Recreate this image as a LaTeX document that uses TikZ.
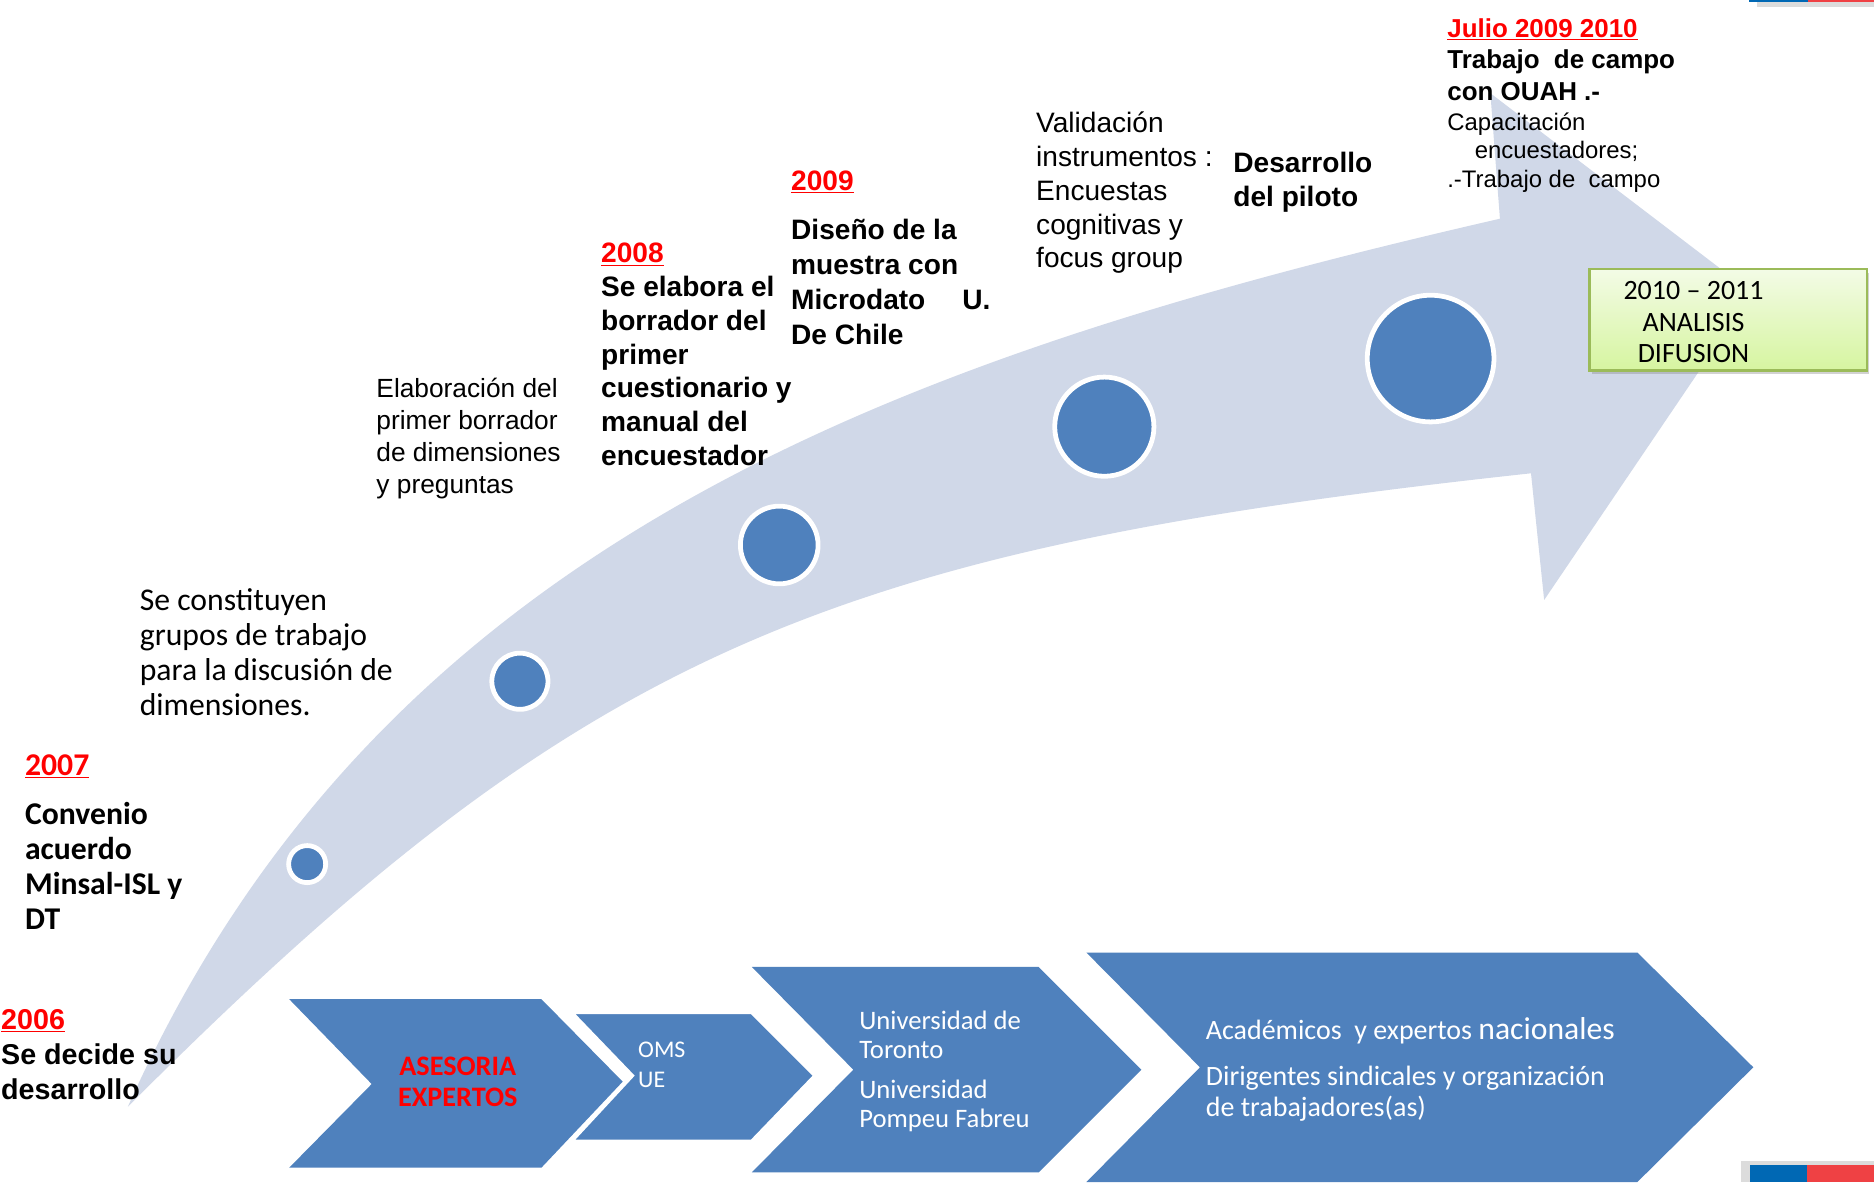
\documentclass[tikz,border=0pt]{standalone}
\usepackage{fontspec}
\setmainfont{Liberation Sans}
\newfontfamily\carlito{Carlito}
\usetikzlibrary{shadows}
\definecolor{arrowfill}{RGB}{208,216,232}
\definecolor{dotblue}{RGB}{79,129,189}
\definecolor{yearred}{RGB}{255,0,0}
\definecolor{boxgreen}{RGB}{155,187,89}
\definecolor{boxtop}{RGB}{243,251,230}
\definecolor{boxbot}{RGB}{214,245,160}
\definecolor{flagblue}{RGB}{0,104,180}
\definecolor{flagred}{RGB}{239,65,68}
\definecolor{flaggrey}{RGB}{220,220,220}
\newcommand\txtblock[1]{\begin{tabular}[t]{@{}l@{}}#1\end{tabular}}
\newcommand\txtcblock[1]{\begin{tabular}[t]{@{}c@{}}#1\end{tabular}}
\newcommand\fsz[2]{\fontsize{#1}{#2}\selectfont}
\newcommand\yr[1]{\textcolor{yearred}{\underline{#1}}}
\begin{document}
\begin{tikzpicture}[x=1pt,y=-1pt,
  txt/.style={anchor=base west, inner sep=0pt, outer sep=0pt},
  ctxt/.style={anchor=base, inner sep=0pt, outer sep=0pt},
  dot/.style={circle, fill=dotblue, draw=white, line width=4pt, inner sep=0pt},
  chev/.style={fill=dotblue},
  greenbox/.style={rectangle, draw=boxgreen, line width=2pt, top color=boxtop, bottom color=boxbot,
    minimum width=232pt, minimum height=85pt, inner sep=0pt,
    drop shadow={shadow xshift=2pt, shadow yshift=-3pt, opacity=0.35}}
]
\fill[white] (0,0) rectangle (1568,989);
\useasboundingbox (0,0) rectangle (1568,989);

% flag strips
\fill[flaggrey] (1470,0) rectangle (1568,6);
\fill[flagblue] (1463,0) rectangle (1513,2);
\fill[flagred] (1513,0) rectangle (1568,2);
\fill[flaggrey] (1457,971) rectangle (1568,989);
\fill[flagblue] (1464,975) rectangle (1512,989);
\fill[flagred] (1512,975) rectangle (1568,989);

% big curved arrow
\coordinate (tail) at (107,926);
\coordinate (ub) at (1255,183);
\coordinate (ubt) at (1247,78);
\coordinate (tip) at (1466,245);
\coordinate (lbt) at (1292,502);
\coordinate (lb) at (1281,396);
\fill[arrowfill] (tail) .. controls (317,456) and (745,300) .. (ub)
  -- (ubt) -- (tip) -- (lbt) -- (lb)
  .. controls (690,460) and (487,545) .. (tail) -- cycle;

% circles
\node[dot, minimum size=31pt] (c1) at (257,723) {};
\node[dot, minimum size=47pt] (c2) at (435,570) {};
\node[dot, minimum size=65pt] (c3) at (652,456) {};
\node[dot, minimum size=83pt] (c4) at (924,357) {};
\node[dot, minimum size=106pt] (c5) at (1197,300) {};

% green box
\node[greenbox] (gbox) at (1446,267.5) {};
\node[ctxt, font=\carlito\fsz{23.4}{26}] (gtext) at (1417,251) {\txtcblock{2010 – 2011\\ANALISIS\\DIFUSION}};

% timeline texts
\node[txt, font=\fsz{24}{29.5}\bfseries] (t2006) at (1,861) {\txtblock{\yr{2006}\\Se decide su\\desarrollo}};
\node[txt, font=\carlito\fsz{26.5}{29.3}\bfseries] (y2007) at (21,649) {\yr{2007}};
\node[txt, font=\carlito\fsz{26.5}{29.3}\bfseries] (t2007) at (21,690) {\txtblock{Convenio\\acuerdo\\Minsal-ISL y\\DT}};
\node[txt, font=\carlito\fsz{26.5}{29.3}] (tgrupos) at (117,511) {\txtblock{Se constituyen\\grupos de trabajo\\para la discusión de\\dimensiones.}};
\node[txt, font=\fsz{22}{26.7}] (telab) at (315,333) {\txtblock{Elaboración del\\primer borrador\\de dimensiones\\y preguntas}};
\node[txt, font=\fsz{23.5}{28.2}\bfseries] (t2008) at (503,220) {\txtblock{\yr{2008}\\Se elabora el\\borrador del\\primer\\cuestionario y\\manual del\\encuestador}};
\node[txt, font=\fsz{23.5}{29.3}\bfseries] (y2009) at (662,159) {\yr{2009}};
\node[txt, font=\fsz{23.5}{29.3}\bfseries] (t2009) at (662,200) {\txtblock{Diseño de la\\muestra con\\Microdato\hspace{31pt}U.\\De Chile}};
\node[txt, font=\fsz{23.5}{28.3}] (tvalid) at (867,111) {\txtblock{Validación\\instrumentos :\\Encuestas\\cognitivas y\\focus group}};
\node[txt, font=\fsz{23.5}{29}\bfseries] (tpiloto) at (1032,144) {\txtblock{Desarrollo\\del piloto}};
\node[txt, font=\fsz{21.7}{26.5}\bfseries] (tjulio) at (1211,31) {\txtblock{\yr{Julio 2009 2010}\\Trabajo\ \ de campo\\con OUAH .-}};
\node[txt, font=\fsz{20}{24}] (tcapac) at (1211,109) {\txtblock{Capacitación\\\hspace*{23pt}encuestadores;\\.-Trabajo de\ \ campo}};

% chevrons
\fill[chev] (242,836) -- (453,836) -- (521,905) -- (453,977) -- (242,977) -- (311,907) -- cycle;
\filldraw[chev, draw=white, line width=3pt, line join=miter] (478,847) -- (629,847) -- (682,900) -- (629,955) -- (478,955) -- (529,900) -- cycle;
\fill[chev] (629,809) -- (869,809) -- (955,895) -- (869,981) -- (629,981) -- (714,895) -- cycle;
\fill[chev] (909,797) -- (1370,797) -- (1467,893) -- (1370,989) -- (909,989) -- (1004,893) -- cycle;

% chevron texts
\node[ctxt, font=\carlito\fsz{23.6}{26}\bfseries, text=yearred] (asesoria) at (383,900) {\txtcblock{ASESORIA\\EXPERTOS}};
\node[txt, font=\carlito\fsz{20}{25}, text=white] (oms) at (534,885) {\txtblock{OMS\\UE}};
\node[txt, font=\carlito\fsz{22.3}{24.5}, text=white] (toronto) at (719,861) {\txtblock{Universidad de\\Toronto}};
\node[txt, font=\carlito\fsz{22.3}{24.5}, text=white] (pompeu) at (719,919) {\txtblock{Universidad\\Pompeu Fabreu}};
\node[txt, font=\carlito\fsz{23.4}{26}, text=white] (academ) at (1009,870) {Académicos\ \ y expertos {\fsz{26.5}{29}nacionales}};
\node[txt, font=\carlito\fsz{23.4}{26}, text=white] (dirig) at (1009,908) {\txtblock{Dirigentes sindicales y organización\\de trabajadores(as)}};
\end{tikzpicture}
\end{document}
